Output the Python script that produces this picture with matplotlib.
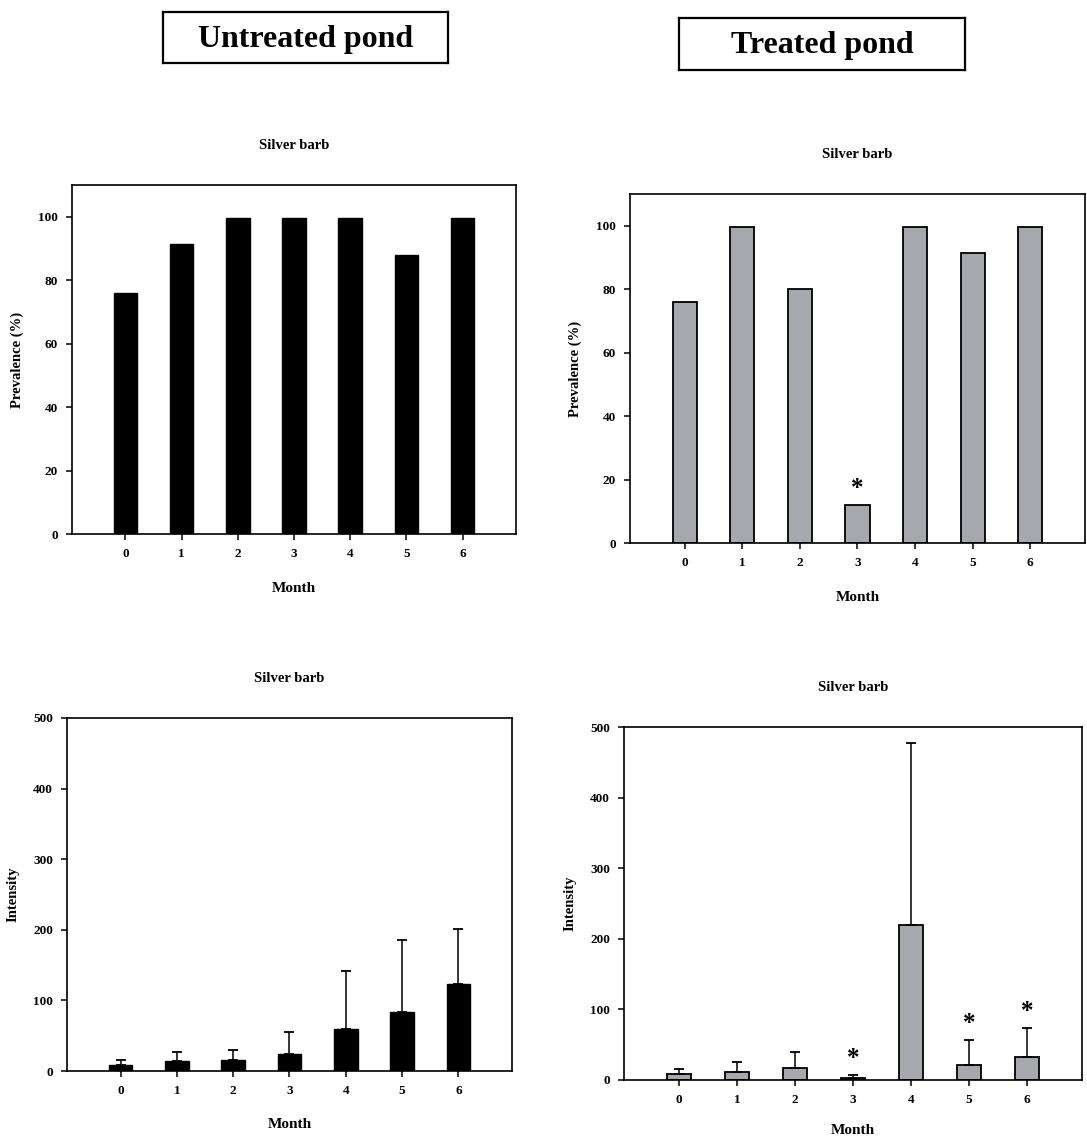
import matplotlib
matplotlib.use("Agg")
import matplotlib.pyplot as plt
import numpy as np

plt.rcParams['font.family'] = ['Liberation Serif', 'DejaVu Serif']
plt.rcParams['font.weight'] = 'bold'

months = [0, 1, 2, 3, 4, 5, 6]
month_labels = ['0', '1', '2', '3', '4', '5', '6']

# Prevalence (%)
prev_untreated = [76, 91.5, 99.5, 99.5, 99.5, 88, 99.5]
prev_treated = [76, 99.5, 80, 12, 99.5, 91.5, 99.5]
prev_treated_sig = [3]

# Intensity (mean) and upper error
int_untreated = [8, 14, 15, 24, 59, 83, 123]
int_untreated_err = [7, 13, 15, 31, 83, 103, 78]
int_treated = [9, 12, 17, 3, 220, 21, 33]
int_treated_err = [7, 13, 22, 4, 257, 36, 41]
int_treated_sig = [3, 5, 6]

prev_ticks = [0, 20, 40, 60, 80, 100]
int_ticks = [0, 100, 200, 300, 400, 500]

W, H = 1087, 1138
fig = plt.figure(figsize=(W / 100, H / 100), dpi=100)

def px_axes(l, r, t, b):
    return fig.add_axes([l / W, (H - b) / H, (r - l) / W, (b - t) / H])

ax_tl = px_axes(72, 516, 185, 534)
ax_tr = px_axes(630, 1085, 194, 543)
ax_bl = px_axes(67, 512, 718, 1071)
ax_br = px_axes(624, 1082, 727, 1080)

GRAY = '#a7a7ae'

def style(ax, ylim, yticks, ylabel, title, xpad=16):
    ax.set_xlim(-0.95, 6.95)
    ax.set_ylim(*ylim)
    ax.set_xticks(months)
    ax.set_xticklabels(month_labels, fontsize=9.5, fontweight='bold')
    ax.set_yticks(yticks)
    ax.set_yticklabels([str(v) for v in yticks], fontsize=9.5, fontweight='bold')
    ax.tick_params(direction='out', length=4, width=1.1, pad=6, top=False, right=False)
    for s in ax.spines.values():
        s.set_linewidth(1.2)
    ax.set_xlabel('Month', fontsize=11, fontweight='bold', labelpad=xpad)
    ax.set_ylabel(ylabel, fontsize=10.5, fontweight='bold', labelpad=10)
    ax.set_title(title, fontsize=10.5, fontweight='bold', pad=26)

def star(ax, x, top):
    ax.annotate('*', xy=(x, top), xytext=(0, 7), textcoords='offset points',
                ha='center', va='baseline', fontsize=18, fontweight='bold')

# Top-left
ax_tl.bar(months, prev_untreated, width=0.42, color='black', edgecolor='black')
style(ax_tl, (0, 110), prev_ticks, 'Prevalence (%)', 'Silver barb', xpad=16)

# Top-right
ax_tr.bar(months, prev_treated, width=0.42, color=GRAY, edgecolor='black', linewidth=1.3)
style(ax_tr, (0, 110), prev_ticks, 'Prevalence (%)', 'Silver barb', xpad=16)
for m in prev_treated_sig:
    star(ax_tr, m, prev_treated[m])

# Bottom-left
ax_bl.bar(months, int_untreated, width=0.42, color='black', edgecolor='black',
          yerr=[np.zeros(len(months)), int_untreated_err], capsize=3.5,
          error_kw=dict(ecolor='black', elinewidth=1.1, capthick=1.3))
style(ax_bl, (0, 500), int_ticks, 'Intensity', 'Silver barb', xpad=15)

# Bottom-right
ax_br.bar(months, int_treated, width=0.42, color=GRAY, edgecolor='black', linewidth=1.3,
          yerr=[np.zeros(len(months)), int_treated_err], capsize=3.5,
          error_kw=dict(ecolor='black', elinewidth=1.1, capthick=1.3))
style(ax_br, (0, 500), int_ticks, 'Intensity', 'Silver barb', xpad=13)
for m in int_treated_sig:
    star(ax_br, m, int_treated[m] + int_treated_err[m])

# Header boxes
def header(text, l, r, t, b):
    axh = fig.add_axes([l / W, (H - b) / H, (r - l) / W, (b - t) / H])
    axh.set_xticks([]); axh.set_yticks([])
    for s in axh.spines.values():
        s.set_linewidth(1.6)
    axh.text(0.5, 0.47, text, ha='center', va='center', fontsize=23,
             fontweight='bold', transform=axh.transAxes)

header('Untreated pond', 163, 448, 12, 63)
header('Treated pond', 679, 965, 18, 70)

fig.savefig('out.png', dpi=100, facecolor='white')
